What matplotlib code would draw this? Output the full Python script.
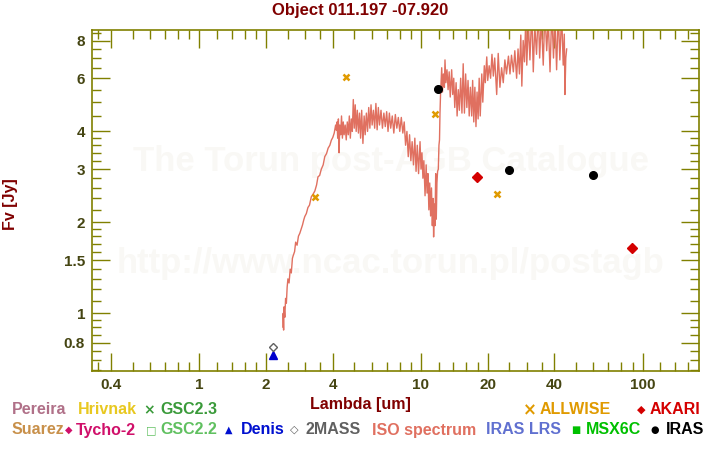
import numpy as np
import matplotlib.pyplot as plt
from matplotlib.ticker import FixedLocator, NullFormatter, FixedFormatter

plt.rcParams['font.family'] = ['Liberation Sans', 'DejaVu Sans']
plt.rcParams['font.weight'] = 'bold'

# photometry (wavelength in um, flux in Jy)
allwise_wl = [3.32, 4.6, 11.6, 22.1]
allwise_fl = [2.42, 6.08, 4.57, 2.48]
iras_wl = [11.97, 25.0, 59.9]
iras_fl = [5.51, 2.99, 2.88]
akari_wl = [17.9, 89.8]
akari_fl = [2.82, 1.644]
denis_wl = [2.16]
denis_fl = [0.726]
tmass_wl = [2.16]
tmass_fl = [0.772]

# ISO spectrum
iso_wl = [2.385, 2.39, 2.40, 2.41, 2.43, 2.45, 2.47, 2.49, 2.51, 2.54, 2.57, 2.60, 2.63, 2.65,
          2.69, 2.72, 2.76, 2.80, 2.84, 2.88, 2.92, 2.96, 2.99, 3.04, 3.09, 3.14, 3.20, 3.26,
          3.32, 3.38, 3.43, 3.49, 3.55, 3.62, 3.68, 3.75, 3.81, 3.88, 3.94, 4.00, 4.06, 4.12,
          4.15,
          4.18, 4.21, 4.24, 4.27, 4.30, 4.34, 4.38, 4.42, 4.46, 4.50, 4.55, 4.60, 4.65, 4.70,
          4.75, 4.80, 4.85, 4.90, 4.95, 5.00, 5.05, 5.10, 5.16, 5.22, 5.28, 5.34, 5.40, 5.47,
          5.54, 5.60, 5.67, 5.74, 5.81, 5.88, 5.95, 6.02, 6.10, 6.18, 6.26, 6.34, 6.42, 6.50,
          6.60, 6.70, 6.80, 6.90, 7.00, 7.10, 7.20, 7.30, 7.42, 7.54, 7.66, 7.78, 7.90, 8.02,
          8.15, 8.28, 8.40, 8.52, 8.64, 8.76, 8.88, 9.00, 9.12, 9.25, 9.38, 9.50, 9.62, 9.75,
          9.90, 10.0, 10.1, 10.2, 10.3, 10.43, 10.55, 10.65, 10.75, 10.85, 10.95, 11.05, 11.15,
          11.25, 11.34, 11.40, 11.48, 11.56, 11.65, 11.72, 11.80, 11.88, 11.97, 12.05, 12.12,
          12.18, 12.25,
          12.40, 12.50, 12.62, 12.75, 12.83, 12.95, 13.1, 13.25, 13.4, 13.55, 13.75, 13.9,
          14.05, 14.2, 14.4, 14.55, 14.73, 14.9, 15.1, 15.3, 15.5, 15.7, 15.9, 16.1, 16.3,
          16.5, 16.7, 16.93, 17.1, 17.3, 17.5, 17.7, 17.9, 18.1, 18.3, 18.5, 18.8, 19.0, 19.3,
          19.5, 19.8, 20.0, 20.3, 20.6, 20.9, 21.2,
          21.5, 21.95, 22.3, 22.7, 23.1, 23.5, 23.9, 24.3, 24.8, 25.2, 25.6, 26.1, 26.5, 27.0,
          27.4, 27.8, 28.2, 28.5, 28.9, 29.3, 29.7, 30.0, 30.5, 31.0, 31.6, 32.1, 32.6, 33.2,
          33.8, 34.3, 34.9, 35.6, 36.2, 36.9, 37.5, 38.2, 38.9, 39.6, 40.2, 40.9, 41.6, 42.3,
          43.1, 43.8, 44.3, 44.6, 45.0, 45.4]
iso_fl = [0.90, 1.00, 0.88, 1.05, 0.97, 1.12, 1.08, 1.22, 1.30, 1.26, 1.40, 1.36, 1.52, 1.55,
          1.60, 1.72, 1.68, 1.80, 1.84, 1.90, 1.96, 2.04, 2.09, 2.14, 2.24, 2.28, 2.43, 2.48,
          2.54, 2.66, 2.83, 2.86, 3.00, 3.10, 3.30, 3.38, 3.52, 3.60, 3.74, 3.82, 3.95, 4.20,
          4.04,
          4.3, 3.8, 4.4, 3.4, 4.2, 3.9, 4.5, 3.8, 4.3, 3.9, 4.2, 3.75, 4.3, 3.9,
          4.5, 3.8, 4.4, 4.0, 5.1, 4.1, 4.9, 4.0, 4.7, 3.95, 4.6, 3.8, 4.7, 3.65,
          4.5, 3.9, 4.6, 4.0, 4.8, 4.1, 4.9, 4.2, 4.7, 4.1, 4.95, 4.05, 4.8, 4.2,
          4.7, 4.1, 4.6, 4.15, 4.65, 4.0, 4.6, 4.1, 4.5, 3.95, 4.55, 4.1, 4.45, 4.0,
          4.45, 3.95, 4.3, 3.6, 4.0, 3.3, 3.9, 3.2, 3.7, 3.1, 3.8, 2.95, 3.6, 2.9,
          3.7, 3.0, 3.4, 2.8, 3.2, 2.45, 3.1, 2.5, 2.9, 2.2, 2.7, 2.1, 2.6,
          1.95, 2.4, 1.79, 2.3, 1.95, 2.9, 2.05, 2.7, 2.95, 3.0, 3.6, 3.75,
          4.6, 5.3,
          6.5, 5.4, 6.2, 5.6, 6.9, 5.8, 6.4, 5.5, 6.3, 5.2, 6.4, 5.3,
          6.0, 4.8, 5.8, 4.5, 5.5, 4.7, 6.0, 4.6, 6.7, 4.6, 6.2, 4.8, 5.9,
          4.5, 5.6, 4.5, 5.9, 4.3, 5.6, 4.15, 5.4, 4.4, 6.0, 4.5, 6.2, 5.0, 6.6,
          5.8, 7.06, 5.9, 6.6, 6.0, 7.2, 6.1,
          7.0, 5.3, 7.25, 5.6, 6.5, 5.8, 6.9, 6.2, 7.1, 6.2, 7.15, 6.3, 7.4, 6.0,
          7.5, 6.2, 8.34, 5.65, 8.0, 6.8, 9.5, 6.63, 9.2, 6.9, 10.0, 6.3, 9.0, 7.2,
          10.0, 7.0, 9.5, 6.63, 10.0, 7.4, 9.4, 6.3, 10.0, 7.0, 9.6, 6.4, 10.0, 6.9,
          9.8, 6.63, 8.4, 5.3, 7.0, 7.5]

x_major = [0.4, 1, 2, 4, 10, 20, 40, 100]
x_minor = [0.35, 0.5, 0.6, 0.7, 0.8, 0.9, 1.2, 1.4, 1.6, 1.8, 2.5, 3, 3.5, 5, 6, 7, 8, 9,
           12, 14, 16, 18, 25, 30, 35, 50, 60, 70, 80, 90, 120, 140, 160]
y_major = [0.8, 1, 1.5, 2, 3, 4, 6, 8]
y_minor = [0.65, 0.7, 0.75, 0.85, 0.9, 0.95, 1.1, 1.2, 1.3, 1.4, 1.6, 1.7, 1.8, 1.9,
           2.2, 2.4, 2.6, 2.8, 3.2, 3.4, 3.6, 3.8, 4.5, 5, 5.5, 6.5, 7, 7.5, 8.5]

olive = '#808000'
label_col = '#454512'
dark_red = '#800000'

fig = plt.figure(figsize=(7.2, 4.5), dpi=100)
ax = fig.add_axes([92/720, 1-370.6/450, 607/720, 341.1/450])

# watermark, kept under the data
wm = dict(ha='center', va='center', fontsize=25, color='#f9f8f5', zorder=0,
          transform=fig.transFigure, clip_on=False)
ax.text(391/720, 1-162/450, 'The Torun post-AGB Catalogue', **wm)
ax.text(391/720, 1-263/450, 'http://www.ncac.torun.pl/postagb', **wm)

ax.plot(iso_wl, iso_fl, color='#e07060', lw=1, zorder=2)
ax.plot(allwise_wl, allwise_fl, ls='', marker='x', ms=5, mew=1.8, color='#e09a00', zorder=3)
ax.plot(iras_wl, iras_fl, ls='', marker='o', ms=5.5, color='black', zorder=3)
ax.plot(akari_wl, akari_fl, ls='', marker='D', ms=4.8, color='#d40000', zorder=3)
ax.plot(denis_wl, denis_fl, ls='', marker='^', ms=5.5, color='#0000cc', zorder=3)
ax.plot(tmass_wl, tmass_fl, ls='', marker='D', ms=3.6, mfc='white', mec='#606060', mew=1,
        zorder=3)

ax.set_xscale('log')
ax.set_yscale('log')
ax.set_xlim(0.328, 179.5)
ax.set_ylim(0.646, 8.7)

ax.xaxis.set_major_locator(FixedLocator(x_major))
ax.xaxis.set_major_formatter(FixedFormatter([str(v) for v in x_major]))
ax.xaxis.set_minor_locator(FixedLocator(x_minor))
ax.xaxis.set_minor_formatter(NullFormatter())
ax.yaxis.set_major_locator(FixedLocator(y_major))
ax.yaxis.set_major_formatter(FixedFormatter([str(v) for v in y_major]))
ax.yaxis.set_minor_locator(FixedLocator(y_minor))
ax.yaxis.set_minor_formatter(NullFormatter())

ax.tick_params(which='both', direction='in', top=True, right=True, color=olive, width=1,
               labelsize=11, labelcolor=label_col, pad=5)
ax.tick_params(which='major', length=13)
ax.tick_params(which='minor', length=6.5)
for s in ax.spines.values():
    s.set_color(olive)
    s.set_linewidth(1.2)

fig.text(0.5, 1-11/450, 'Object 011.197 -07.920', ha='center', va='center',
         fontsize=12, color=dark_red)
fig.text(0.5, 1-404/450, 'Lambda [um]', ha='center', va='center', fontsize=11.5, color=dark_red)
fig.text(10.5/720, 1-204/450, 'Fv [Jy]', ha='center', va='center', rotation=90,
         fontsize=11.5, color=dark_red)

# legend rows
leg_fs = 11.5
sym = dict(family='DejaVu Sans', va='center', ha='center')
row1 = 1-410/450
row2 = 1-430/450
fig.text(11.7/720, row1, 'Pereira', color='#b07088', fontsize=leg_fs, va='center')
fig.text(77.7/720, row1, 'Hrivnak', color='#e8c820', fontsize=leg_fs, va='center')
fig.text(149/720, row1, '\u00d7', color='#3a9a3a', fontsize=10, **sym)
fig.text(160.7/720, row1, 'GSC2.3', color='#3a9a3a', fontsize=leg_fs, va='center')
fig.text(530/720, row1, '\u00d7', color='#e09a00', fontsize=12, **sym)
fig.text(540/720, row1, 'ALLWISE', color='#e09a00', fontsize=leg_fs, va='center')
fig.text(641/720, row1, '\u25c6', color='#d40000', fontsize=8, **sym)
fig.text(650/720, row1, 'AKARI', color='#d40000', fontsize=leg_fs, va='center')

fig.text(11.7/720, row2, 'Suarez', color='#c8904a', fontsize=leg_fs, va='center')
fig.text(69/720, row2, '\u25c6', color='#d0106a', fontsize=7, **sym)
fig.text(76/720, row2, 'Tycho-2', color='#d0106a', fontsize=leg_fs, va='center')
fig.text(151/720, row2, '\u25a1', color='#60c060', fontsize=8, **sym)
fig.text(160.7/720, row2, 'GSC2.2', color='#60c060', fontsize=leg_fs, va='center')
fig.text(228.7/720, row2, '\u25b2', color='#0010d0', fontsize=7, **sym)
fig.text(240.7/720, row2, 'Denis', color='#0010d0', fontsize=leg_fs, va='center')
fig.text(294/720, row2, '\u25c7', color='#606060', fontsize=8, **sym)
fig.text(306/720, row2, '2MASS', color='#606060', fontsize=leg_fs, va='center')
fig.text(371.7/720, row2, 'ISO spectrum', color='#e07060', fontsize=leg_fs, va='center')
fig.text(486/720, row2, 'IRAS LRS', color='#6070d0', fontsize=leg_fs, va='center')
fig.text(575.7/720, row2, '\u25a0', color='#00c000', fontsize=7, **sym)
fig.text(585.7/720, row2, 'MSX6C', color='#00c000', fontsize=leg_fs, va='center')
fig.text(655/720, row2, '\u25cf', color='black', fontsize=7, **sym)
fig.text(665.7/720, row2, 'IRAS', color='black', fontsize=leg_fs, va='center')

fig.savefig('out.png', dpi=100)
